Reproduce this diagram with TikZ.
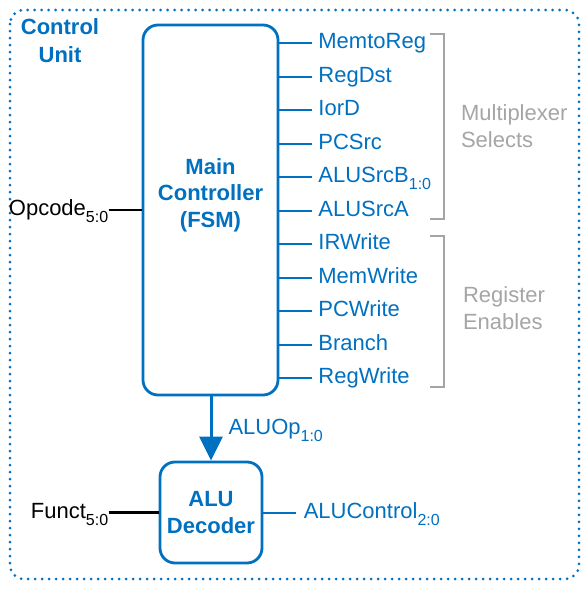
\documentclass[tikz,border=0pt]{standalone}
\usepackage{fontspec}
\setmainfont{Liberation Sans}
\usetikzlibrary{arrows.meta,positioning}
\definecolor{cublue}{RGB}{0,112,192}
\definecolor{brgray}{RGB}{165,165,165}
\newcommand{\bitsub}[1]{\raisebox{-3.5pt}{\fontsize{8}{8}\selectfont#1}}
\tikzset{
  fsmbox/.style={draw=cublue, line width=1.4pt, rounded corners=7.5pt},
  boldlbl/.style={text=cublue, font=\fontsize{11}{13.25}\selectfont\bfseries, align=center},
  siglbl/.style={text=cublue, inner sep=3pt, text height=8.25pt, text depth=2.75pt, font=\fontsize{11}{13}\selectfont},
  inlbl/.style={inner xsep=0pt, text height=8.25pt, text depth=2.75pt, font=\fontsize{11}{13}\selectfont},
  grouplbl/.style={text=brgray, align=left, font=\fontsize{11}{13.5}\selectfont},
  sigwire/.style={draw=cublue, line width=1pt},
  inwire/.style={draw=black, line width=1.4pt},
  bracket/.style={draw=brgray, line width=1.3pt},
}
\begin{document}
\begin{tikzpicture}[x=0.5pt, y=-0.5pt]
  \useasboundingbox (0,0) rectangle (588,589);
  % control unit
  \draw[cublue, line width=1.5pt, line cap=round, dash pattern=on 0pt off 3.5pt, rounded corners=7pt] (10,10) rectangle (579,579);
  \node[boldlbl, font=\fontsize{11}{14}\selectfont\bfseries] (cu) at (60,41) {Control\\Unit};

  % main controller
  \node[fsmbox, minimum width=67.5pt, minimum height=185pt] (main) at (210.5,210) {};
  \node[boldlbl] (maintxt) at (210.5,195) {Main\\Controller\\(FSM)};
  \foreach \sig [count=\i] in {MemtoReg, RegDst, IorD, PCSrc, ALUSrcB\bitsub{1:0}, ALUSrcA, IRWrite, MemWrite, PCWrite, Branch, RegWrite} {
    \node[siglbl, anchor=west] (sig\i) at (312, 43+33.5*\i-33.5) {\sig};
    \draw[sigwire] (main.east |- sig\i.west) -- (sig\i.west);
  }
  \draw[bracket] (430,34) -- (444,34) -- (444,219) -- (430,219);
  \draw[bracket] (430,236) -- (444,236) -- (444,387) -- (430,387);
  \node[grouplbl, anchor=west] (mux) at (454,126) {Multiplexer\\Selects};
  \node[grouplbl, anchor=west] (regen) at (456,308.5) {Register\\Enables};

  \node[inlbl, left=16.5pt of main.west] (opcode) {Opcode\bitsub{5:0}};
  \draw[inwire] (opcode.east) -- (main.west);

  % alu decoder
  \node[fsmbox, boldlbl, minimum width=51pt, minimum height=50.5pt] (alu) at (211,512.5) {ALU\\Decoder};
  \draw[cublue, line width=1.5pt, -{Triangle[length=12pt, width=11.5pt]}] (alu.north |- main.south) -- (alu.north)
    node[siglbl, midway, anchor=west, xshift=5pt] (aluop) {ALUOp\bitsub{1:0}};
  \node[inlbl, left=25pt of alu.west] (funct) {Funct\bitsub{5:0}};
  \draw[inwire] (funct.east) -- (alu.west);
  \node[siglbl, inner sep=3.5pt, right=16.5pt of alu.east] (aluctl) {ALUControl\bitsub{2:0}};
  \draw[sigwire] (alu.east) -- (aluctl.west);
\end{tikzpicture}
\end{document}
